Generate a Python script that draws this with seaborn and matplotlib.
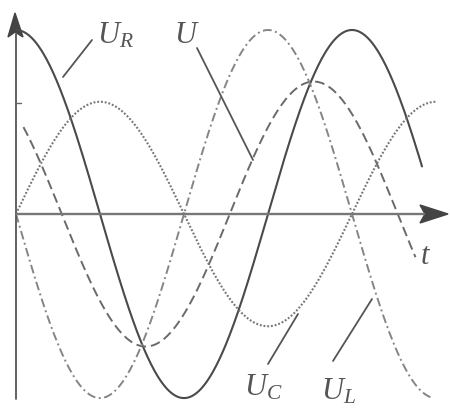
import numpy as np
import pandas as pd
import matplotlib
matplotlib.use("Agg")
import matplotlib.pyplot as plt
import seaborn as sns
from matplotlib.patches import Polygon

# Series RLC circuit: voltages as sinusoids (amplitude relative to U_R, phase in degrees)
curves = ["U_R", "U", "U_C", "U_L"]
amplitudes = [1.0, 0.72, 0.61, 1.0]
phases_deg = [0, 41, -90, 90]
start_deg = [0, 8, 0, 0]
end_deg = [435, 428, 451, 446]

colors = ["#4a4a4a", "#6a6a6a", "#767676", "#858585"]
widths = [1.5, 1.4, 1.5, 1.4]
styles = ["-", (0, (5, 2.5)), (0, (0.9, 0.9)), (0, (4.5, 1.8, 1, 1.8))]

sns.set_style("white")
plt.rcParams["mathtext.fontset"] = "custom"
plt.rcParams["mathtext.it"] = "Liberation Serif:italic"
plt.rcParams["mathtext.rm"] = "Liberation Serif"
plt.rcParams["font.family"] = ["Liberation Serif", "DejaVu Serif"]

fig = plt.figure(figsize=(4.5, 4.08), dpi=100)
ax = fig.add_axes([0, 0, 1, 1])
ax.set_xlim(-17.14, 465.0)
ax.set_ylim(-1.054, 1.163)
ax.axis("off")

rows = []
for name, a, ph, t0, t1 in zip(curves, amplitudes, phases_deg, start_deg, end_deg):
    theta = np.linspace(t0, t1, 500)
    rows.append(pd.DataFrame({"curve": name, "theta": theta,
                              "v": a * np.cos(np.radians(theta + ph))}))
df = pd.concat(rows, ignore_index=True)

for name, c, lw, ls in zip(curves, colors, widths, styles):
    sns.lineplot(data=df[df.curve == name], x="theta", y="v", color=c,
                 linewidth=lw, estimator=None, sort=False, ax=ax, legend=False)
    ax.lines[-1].set_linestyle(ls)


def P(x, y):
    """Figure pixel position (from top-left) to axes fraction."""
    return (x / 450.0, 1 - y / 408.0)


def seg(p0, p1, **kw):
    a, b = P(*p0), P(*p1)
    ax.plot([a[0], b[0]], [a[1], b[1]], transform=ax.transAxes, **kw)


# coordinate axes
seg((16, 34), (16, 399), color="#555555", lw=1.3)
seg((16, 214), (424, 214), color="#777777", lw=1.7)
seg((16, 103), (21, 103), color="#666666", lw=1.0)
ax.add_patch(Polygon([P(15, 13), P(8, 37), P(15, 32), P(23, 37)], closed=True,
                     transform=ax.transAxes, color="#444444"))
ax.add_patch(Polygon([P(448, 214), P(420, 205), P(425, 214), P(420, 223)], closed=True,
                     transform=ax.transAxes, color="#444444"))

# label leader lines
lead = dict(color="#555555", lw=1.3)
seg((63, 77), (92, 40), **lead)
seg((197, 48), (253, 160), **lead)
seg((268, 364), (298, 314), **lead)
seg((333, 361), (372, 299), **lead)

tk = dict(transform=ax.transAxes, color="#555555", fontsize=22, ha="left", va="baseline")
ax.text(*P(97, 43), r"$U_R$", **tk)
ax.text(*P(174, 43), r"$U$", **tk)
ax.text(*P(244, 396), r"$U_C$", **tk)
ax.text(*P(321, 399), r"$U_L$", **tk)
ax.text(*P(420, 264), r"$t$", **tk)

fig.savefig("out.png", dpi=100)
